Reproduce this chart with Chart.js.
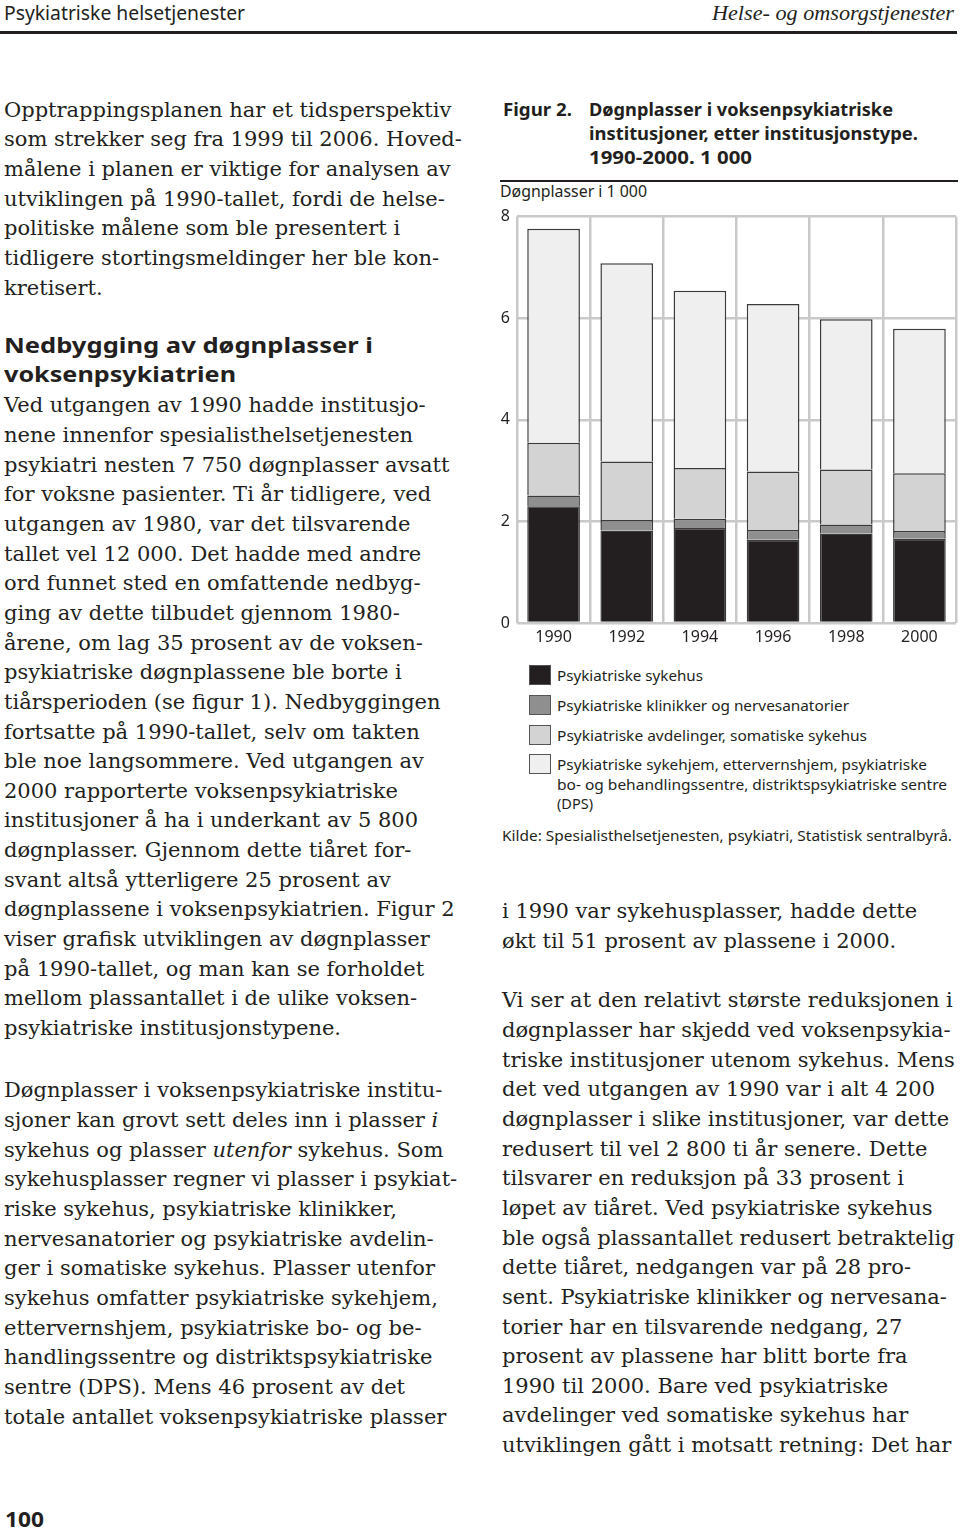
<!DOCTYPE html>
<html>
<head>
<meta charset="utf-8">
<script src="https://cdn.jsdelivr.net/npm/chart.js@4/dist/chart.umd.min.js"></script>
<style>
  html, body { margin: 0; padding: 0; background: #fff; }
  body { width: 960px; height: 1530px; position: relative; overflow: hidden; color: #231f20; }
  .abs { position: absolute; white-space: nowrap; }
  .serif { font-family: "DejaVu Serif", serif; font-size: 21px; line-height: 29.65px; }
  .sans { font-family: "Noto Sans", sans-serif; }
  .fit { transform-origin: left top; }
  .rule { position: absolute; background: #231f20; }
  .sw { position: absolute; width: 20px; height: 18px; border: 1px solid #555; }
</style>
</head>
<body>

<!-- header -->
<div class="abs sans fit" data-w="241" style="left:4px; top:0.6px; font-size:19px; line-height:24px;">Psykiatriske helsetjenester</div>
<div class="abs fit" data-w="242" style="left:712px; top:1px; font-family:'Liberation Serif',serif; font-style:italic; font-size:21px; line-height:24px;">Helse- og omsorgstjenester</div>
<div class="rule" style="left:0; top:31px; width:957px; height:2.5px;"></div>

<!-- left column -->
<div class="abs serif" style="left:4px; top:95.6px;">Opptrappingsplanen har et tidsperspektiv<br>som strekker seg fra 1999 til 2006. Hoved-<br>målene i planen er viktige for analysen av<br>utviklingen på 1990-tallet, fordi de helse-<br>politiske målene som ble presentert i<br>tidligere stortingsmeldinger her ble kon-<br>kretisert.</div>

<div class="abs sans fit" data-w="369" style="left:4px; top:329.6px; font-size:22px; line-height:29.7px; font-weight:bold;">Nedbygging av døgnplasser i</div>
<div class="abs sans fit" data-w="232" style="left:4px; top:359.3px; font-size:22px; line-height:29.7px; font-weight:bold;">voksenpsykiatrien</div>

<div class="abs serif" style="left:4px; top:391.3px;">Ved utgangen av 1990 hadde institusjo-<br>nene innenfor spesialisthelsetjenesten<br>psykiatri nesten 7 750 døgnplasser avsatt<br>for voksne pasienter. Ti år tidligere, ved<br>utgangen av 1980, var det tilsvarende<br>tallet vel 12 000. Det hadde med andre<br>ord funnet sted en omfattende nedbyg-<br>ging av dette tilbudet gjennom 1980-<br>årene, om lag 35 prosent av de voksen-<br>psykiatriske døgnplassene ble borte i<br>tiårsperioden (se figur 1). Nedbyggingen<br>fortsatte på 1990-tallet, selv om takten<br>ble noe langsommere. Ved utgangen av<br>2000 rapporterte voksenpsykiatriske<br>institusjoner å ha i underkant av 5 800<br>døgnplasser. Gjennom dette tiåret for-<br>svant altså ytterligere 25 prosent av<br>døgnplassene i voksenpsykiatrien. Figur 2<br>viser grafisk utviklingen av døgnplasser<br>på 1990-tallet, og man kan se forholdet<br>mellom plassantallet i de ulike voksen-<br>psykiatriske institusjonstypene.</div>

<div class="abs serif" style="left:4px; top:1076.3px;">Døgnplasser i voksenpsykiatriske institu-<br>sjoner kan grovt sett deles inn i plasser <i>i</i><br>sykehus og plasser <i>utenfor</i> sykehus. Som<br>sykehusplasser regner vi plasser i psykiat-<br>riske sykehus, psykiatriske klinikker,<br>nervesanatorier og psykiatriske avdelin-<br>ger i somatiske sykehus. Plasser utenfor<br>sykehus omfatter psykiatriske sykehjem,<br>ettervernshjem, psykiatriske bo- og be-<br>handlingssentre og distriktspsykiatriske<br>sentre (DPS). Mens 46 prosent av det<br>totale antallet voksenpsykiatriske plasser</div>

<div class="abs sans fit" data-w="39" style="left:5px; top:1507px; font-size:22px; line-height:22px; font-weight:bold;">100</div>

<!-- right column: figure -->
<div class="abs sans fit" data-w="69" style="left:503px; top:97px; font-size:18px; line-height:24px; font-weight:bold;">Figur 2.</div>
<div class="abs sans fit" data-w="304" style="left:589px; top:97px; font-size:18px; line-height:24px; font-weight:bold;">Døgnplasser i voksenpsykiatriske</div>
<div class="abs sans fit" data-w="329" style="left:589px; top:121px; font-size:18px; line-height:24px; font-weight:bold;">institusjoner, etter institusjonstype.</div>
<div class="abs sans fit" data-w="163" style="left:589px; top:145px; font-size:18px; line-height:24px; font-weight:bold;">1990-2000. 1 000</div>
<div class="rule" style="left:500px; top:180px; width:458px; height:1.5px;"></div>

<div class="abs sans fit" data-w="147" style="left:500px; top:180.5px; font-size:16px; line-height:20px;">Døgnplasser i 1 000</div>

<canvas id="chart" width="458" height="453" style="position:absolute; left:500px; top:200px;"></canvas>

<div id="legend"></div>

<div class="abs sans fit" data-w="450" style="left:502px; top:826px; font-size:15px; line-height:19.5px;">Kilde: Spesialisthelsetjenesten, psykiatri, Statistisk sentralbyrå.</div>

<!-- right column text -->
<div class="abs serif" style="left:502px; top:897px;">i 1990 var sykehusplasser, hadde dette<br>økt til 51 prosent av plassene i 2000.</div>
<div class="abs serif" style="left:502px; top:986.3px;">Vi ser at den relativt største reduksjonen i<br>døgnplasser har skjedd ved voksenpsykia-<br>triske institusjoner utenom sykehus. Mens<br>det ved utgangen av 1990 var i alt 4 200<br>døgnplasser i slike institusjoner, var dette<br>redusert til vel 2 800 ti år senere. Dette<br>tilsvarer en reduksjon på 33 prosent i<br>løpet av tiåret. Ved psykiatriske sykehus<br>ble også plassantallet redusert betraktelig<br>dette tiåret, nedgangen var på 28 pro-<br>sent. Psykiatriske klinikker og nervesana-<br>torier har en tilsvarende nedgang, 27<br>prosent av plassene har blitt borte fra<br>1990 til 2000. Bare ved psykiatriske<br>avdelinger ved somatiske sykehus har<br>utviklingen gått i motsatt retning: Det har</div>

<script>
// Døgnplasser i 1 000, lest av figuren
const years = ["1990", "1992", "1994", "1996", "1998", "2000"];
const sykehus = [2.30, 1.82, 1.87, 1.64, 1.76, 1.66];
const klinikker = [0.21, 0.21, 0.18, 0.19, 0.18, 0.15];
const avdelinger = [1.04, 1.15, 1.00, 1.15, 1.08, 1.14];
const sykehjem = [4.21, 3.90, 3.49, 3.30, 2.96, 2.84];
const yTicks = [0, 2, 4, 6, 8];

const seriesNames = [
  "Psykiatriske sykehus",
  "Psykiatriske klinikker og nervesanatorier",
  "Psykiatriske avdelinger, somatiske sykehus",
  "Psykiatriske sykehjem, ettervernshjem, psykiatriske\nbo- og behandlingssentre, distriktspsykiatriske sentre\n(DPS)"
];
const seriesColors = ["#231f20", "#8f8f8f", "#d3d3d3", "#efefef"];
const seriesValues = [sykehus, klinikker, avdelinger, sykehjem];

const sansFont = "'Noto Sans', sans-serif";

new Chart(document.getElementById("chart"), {
  type: "bar",
  data: {
    labels: years,
    datasets: seriesValues.map((vals, i) => ({
      label: seriesNames[i],
      data: vals,
      backgroundColor: seriesColors[i],
      borderColor: "#3a3a3a",
      borderWidth: 1.5,
      barPercentage: 0.72,
      categoryPercentage: 1,
    })),
  },
  options: {
    responsive: false,
    animation: false,
    layout: { padding: { top: 14, right: 2, left: 0, bottom: 0 } },
    plugins: { legend: { display: false }, tooltip: { enabled: false } },
    scales: {
      x: {
        stacked: true,
        grid: { color: "#c9c9c9", lineWidth: 2.5, drawTicks: false, offset: true },
        border: { display: false },
        ticks: { color: "#231f20", font: { family: sansFont, size: 16 }, padding: 5 },
        afterFit: (scale) => { scale.height = 30; },
      },
      y: {
        stacked: true,
        min: yTicks[0],
        max: yTicks[yTicks.length - 1],
        afterBuildTicks: (scale) => { scale.ticks = yTicks.map((v) => ({ value: v })); },
        grid: { color: "#c9c9c9", lineWidth: 2.5, drawTicks: false },
        border: { display: false },
        ticks: { color: "#231f20", font: { family: sansFont, size: 16 }, padding: 7 },
        afterFit: (scale) => { scale.width = 17; },
      },
    },
  },
});

// legend
const legendTops = [666, 696, 725.5, 755];
const legendWidths = [[146], [292], [310], [370, 390, 36]];
const legend = document.getElementById("legend");
seriesNames.forEach((name, i) => {
  const sw = document.createElement("div");
  sw.className = "sw";
  sw.style.left = "529px";
  sw.style.top = (legendTops[i] - 1) + "px";
  sw.style.background = seriesColors[i];
  legend.appendChild(sw);
  name.split("\n").forEach((line, j) => {
    const t = document.createElement("div");
    t.className = "abs sans fit";
    t.style.left = "557px";
    t.style.top = (legendTops[i] + j * 19.5) + "px";
    t.style.fontSize = "15px";
    t.style.lineHeight = "19.5px";
    t.dataset.w = legendWidths[i][j];
    t.textContent = line;
    legend.appendChild(t);
  });
});

// fit sans/condensed text to measured widths
document.querySelectorAll("[data-w]").forEach((el) => {
  const w = el.getBoundingClientRect().width;
  if (w > 0) el.style.transform = "scaleX(" + (+el.dataset.w / w) + ")";
});
</script>
</body>
</html>
